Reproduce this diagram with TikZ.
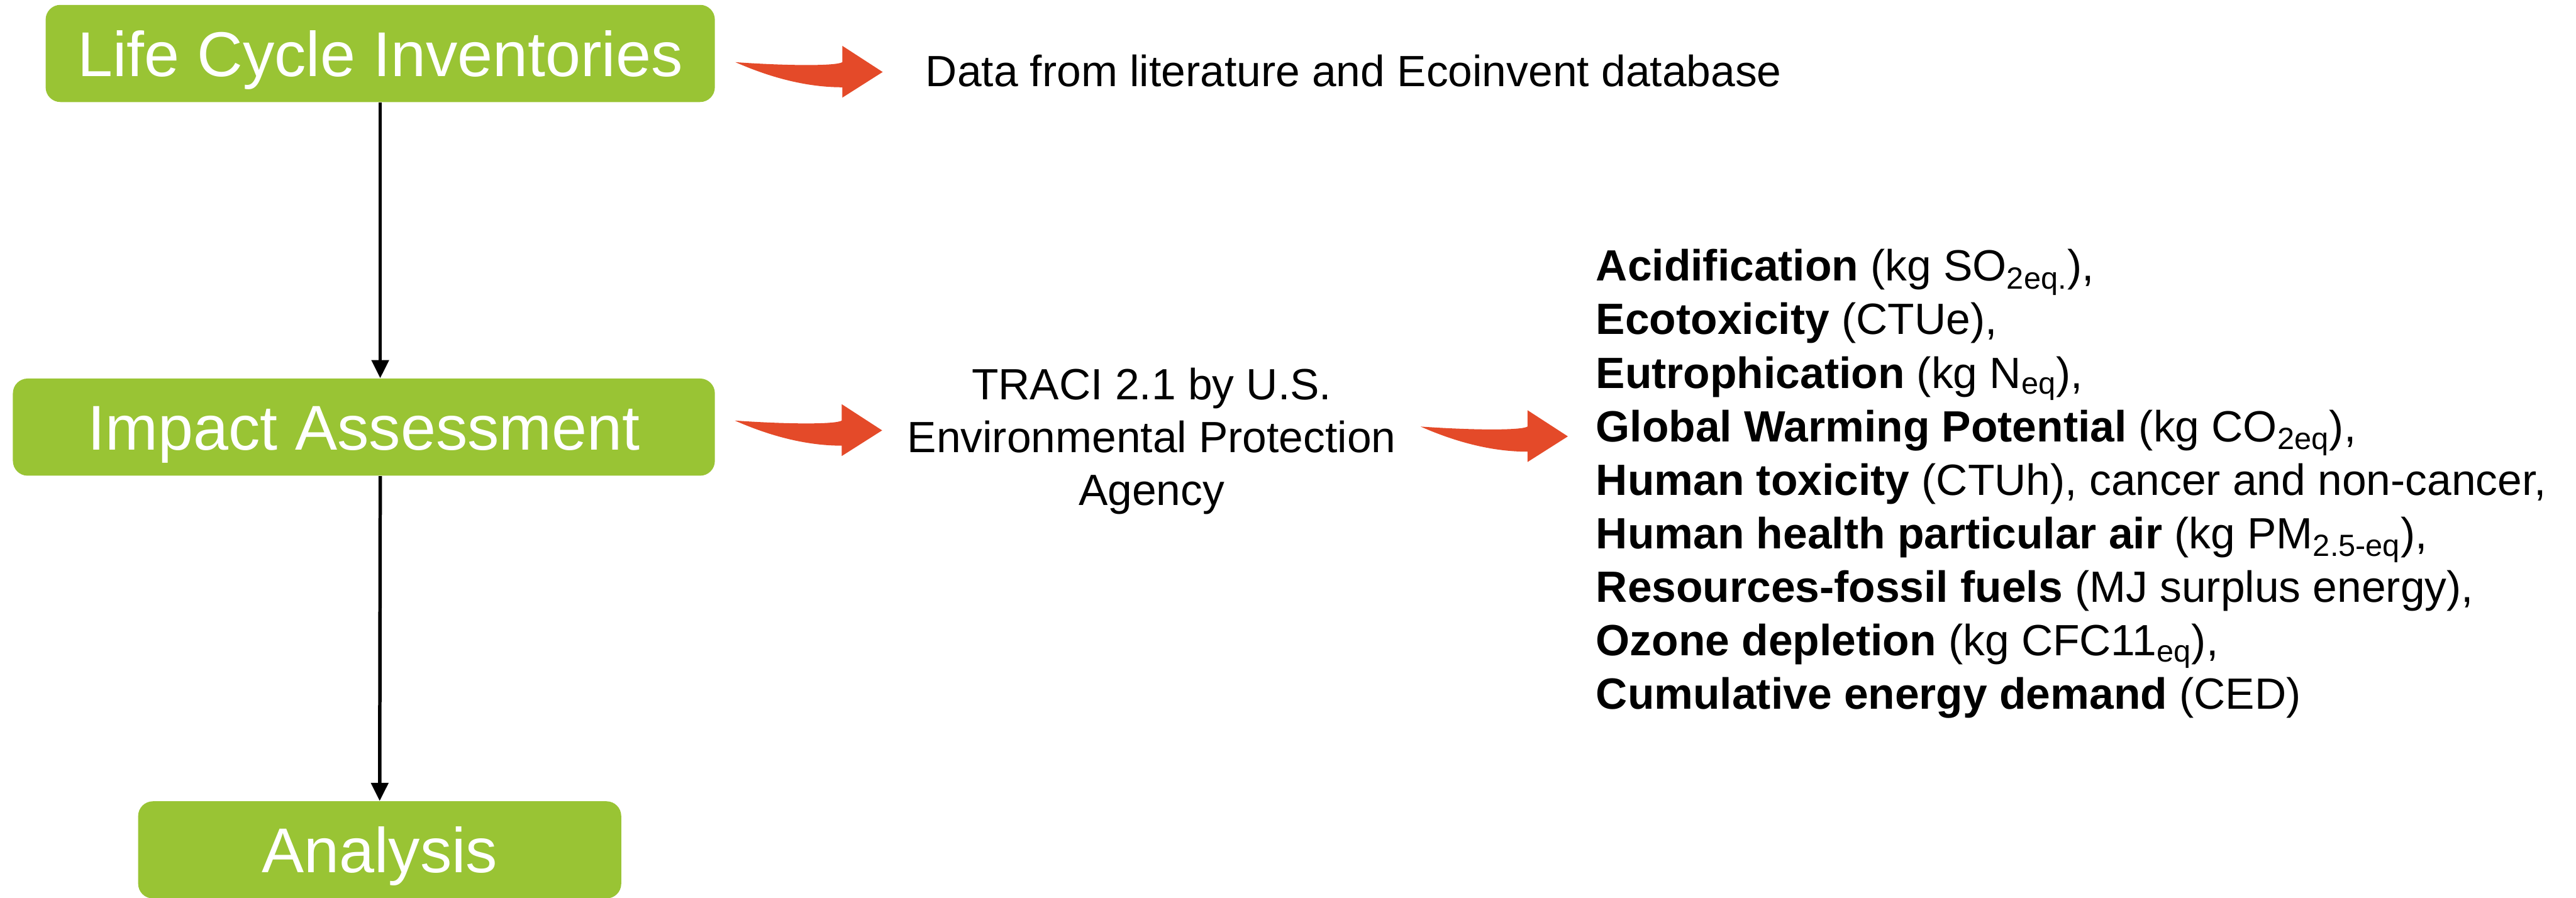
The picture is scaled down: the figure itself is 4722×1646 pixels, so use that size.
\documentclass[tikz,border=0pt]{standalone}
\usepackage{fontspec}
\setmainfont{Liberation Sans}
\usetikzlibrary{arrows.meta, positioning}

\definecolor{stagegreen}{HTML}{99C434}
\definecolor{arrowred}{HTML}{E44A29}

\begin{document}
\begin{tikzpicture}[
  x=0.01cm, y=-0.01cm,
  stagebox/.style={fill=stagegreen, rounded corners=0.27cm, text=white, inner sep=0pt, minimum height=1.78cm, text height=0.83cm, text depth=0pt, font=\fontsize{33pt}{40pt}\selectfont},
  infotext/.style={inner sep=0pt, font=\fontsize{22.8pt}{27.6pt}\selectfont},
  flowarrow/.style={draw=black, line width=1.8pt, -{Triangle[length=0.33cm, width=0.31cm]}},
  bendarrow/.pic={
    \fill[arrowred] (0,0) .. controls (100,7) and (185,7) .. (196,0) -- (196,-30) -- (270,18)
      -- (196,65) -- (196,46) .. controls (120,46) and (50,22) .. (0,0) -- cycle;
  }
]
\useasboundingbox (0,0) rectangle (4722,1646);

% stages
\node[stagebox, minimum width=12.26cm] (inventory) at (697,98) {Life Cycle Inventories};
\node[stagebox, minimum width=12.86cm] (impact) at (667,783) {Impact Assessment};
\node[stagebox, minimum width=8.85cm] (analysis) at (696,1558) {Analysis};

\draw[flowarrow] (inventory.south) -- (inventory.south |- impact.north);
\draw[flowarrow] (inventory.south |- impact.south) -- (analysis.north);

% sources and methods
\node[infotext, anchor=base west] (datasrc) at (1696,158) {Data from literature and Ecoinvent database};
\node[infotext, align=center] (traci) at (2111,809) {TRACI 2.1 by U.S.\\ Environmental Protection\\ Agency};
\node[infotext, align=left, anchor=west, font=\fontsize{22.8pt}{27.9pt}\selectfont] (categories) at (2925,887) {%
  \textbf{Acidification} (kg SO\textsubscript{2eq.}),\\
  \textbf{Ecotoxicity} (CTUe),\\
  \textbf{Eutrophication} (kg N\textsubscript{eq}),\\
  \textbf{Global Warming Potential} (kg CO\textsubscript{2eq}),\\
  \textbf{Human toxicity} (CTUh), cancer and non-cancer,\\
  \textbf{Human health particular air} (kg PM\textsubscript{2.5-eq}),\\
  \textbf{Resources-fossil fuels} (MJ surplus energy),\\
  \textbf{Ozone depletion} (kg CFC11\textsubscript{eq}),\\
  \textbf{Cumulative energy demand} (CED)};

% red arrows
\pic at (1348,114) {bendarrow};
\pic at (1347,771) {bendarrow};
\pic at (2604,782) {bendarrow};

\end{tikzpicture}
\end{document}
